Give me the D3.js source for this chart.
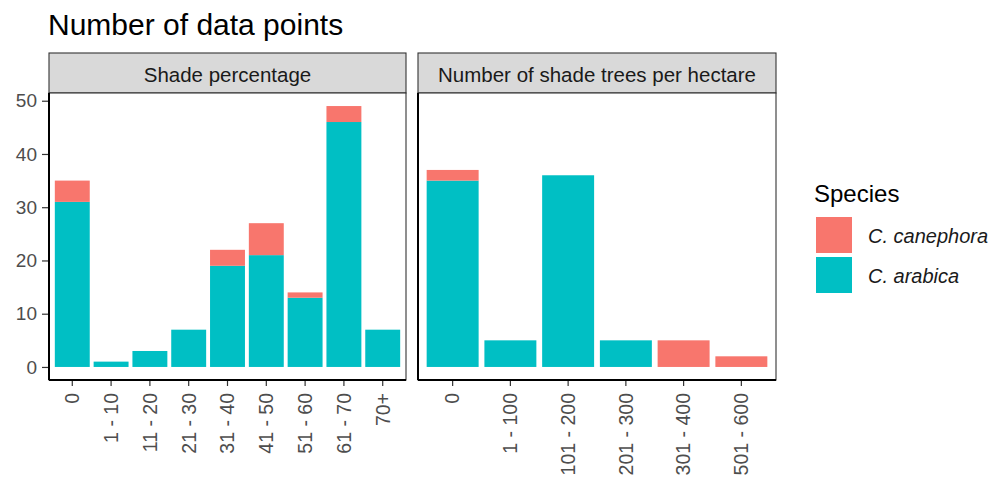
<!DOCTYPE html>
<html>
<head>
<meta charset="utf-8">
<script src="https://cdn.jsdelivr.net/npm/d3@7"></script>
<style>
  body { margin: 0; background: #fff; }
  svg { display: block; font-family: "Liberation Sans", Arial, sans-serif; }
</style>
</head>
<body>
<div id="svgDiv"></div>
<script>
// data
var shadeCats = ["0", "1 - 10", "11 - 20", "21 - 30", "31 - 40", "41 - 50", "51 - 60", "61 - 70", "70+"];
var shadeArabica = [31, 1, 3, 7, 19, 21, 13, 46, 7];
var shadeCanephora = [4, 0, 0, 0, 3, 6, 1, 3, 0];

var treeCats = ["0", "1 - 100", "101 - 200", "201 - 300", "301 - 400", "501 - 600"];
var treeArabica = [35, 5, 36, 5, 0, 0];
var treeCanephora = [2, 0, 0, 0, 5, 2];

var yTicks = [0, 10, 20, 30, 40, 50];
var species = ["C. canephora", "C. arabica"];
var colors = { "C. canephora": "#F8766D", "C. arabica": "#00BFC4" };

var width = 1003, height = 480;
var panelTop = 93, panelBottom = 380, stripTop = 53;

var svg = d3.select("#svgDiv").append("svg")
    .attr("width", width)
    .attr("height", height);

// title
svg.append("text")
    .attr("x", 48).attr("y", 35)
    .style("font-size", "30px")
    .style("fill", "#000")
    .text("Number of data points");

// shared y scale (ggplot expands 5% each side)
var yMax = 49;
var yScale = d3.scaleLinear()
    .domain([-0.05 * yMax, yMax * 1.05])
    .range([panelBottom, panelTop]);

function drawPanel(x0, x1, title, cats, arabica, canephora, showY)
{
    var g = svg.append("g");
    var xScale = d3.scaleBand()
        .domain(cats)
        .range([x0, x1])
        .paddingInner(0.1)
        .paddingOuter(0.15);

    // strip
    g.append("rect")
        .attr("x", x0).attr("y", stripTop)
        .attr("width", x1 - x0).attr("height", panelTop - stripTop)
        .style("fill", "#D9D9D9")
        .style("stroke", "#333333")
        .style("stroke-width", 1.1);
    g.append("text")
        .attr("x", (x0 + x1) / 2).attr("y", (stripTop + panelTop) / 2 + 1)
        .attr("text-anchor", "middle")
        .attr("dominant-baseline", "central")
        .style("font-size", "20.5px")
        .style("fill", "#1A1A1A")
        .text(title);

    // panel background
    g.append("rect")
        .attr("x", x0).attr("y", panelTop)
        .attr("width", x1 - x0).attr("height", panelBottom - panelTop)
        .style("fill", "#fff")
        .style("stroke", "#333333")
        .style("stroke-width", 1.1);

    // stacked bars: arabica at bottom, canephora on top
    var rows = cats.map(function(c, i) {
        return { cat: c, arabica: arabica[i], canephora: canephora[i] };
    });
    g.selectAll(".bar-ara")
        .data(rows.filter(d => d.arabica > 0)).enter().append("rect")
        .attr("x", d => xScale(d.cat))
        .attr("width", xScale.bandwidth())
        .attr("y", d => yScale(d.arabica))
        .attr("height", d => yScale(0) - yScale(d.arabica))
        .style("fill", colors["C. arabica"]);
    g.selectAll(".bar-can")
        .data(rows.filter(d => d.canephora > 0)).enter().append("rect")
        .attr("x", d => xScale(d.cat))
        .attr("width", xScale.bandwidth())
        .attr("y", d => yScale(d.arabica + d.canephora))
        .attr("height", d => yScale(d.arabica) - yScale(d.arabica + d.canephora))
        .style("fill", colors["C. canephora"]);

    // axis lines
    g.append("line")
        .attr("x1", x0).attr("x2", x1)
        .attr("y1", panelBottom).attr("y2", panelBottom)
        .style("stroke", "#000").style("stroke-width", 2);
    g.append("line")
        .attr("x1", x0).attr("x2", x0)
        .attr("y1", panelTop).attr("y2", panelBottom)
        .style("stroke", "#000").style("stroke-width", 2);

    // x axis
    var xAxis = d3.axisBottom(xScale).tickSize(5).tickPadding(4);
    var gx = g.append("g")
        .attr("transform", `translate(0,${panelBottom + 1})`)
        .call(xAxis);
    gx.select(".domain").remove();
    gx.selectAll(".tick line").style("stroke", "#333333").style("stroke-width", 1.2);
    gx.selectAll(".tick text")
        .attr("transform", "rotate(-90)")
        .attr("x", -12).attr("y", 0).attr("dy", "0.35em")
        .attr("text-anchor", "end")
        .style("font-size", "19.5px")
        .style("font-family", "Liberation Sans, Arial, sans-serif")
        .style("fill", "#4D4D4D");

    if (showY) {
        var yAxis = d3.axisLeft(yScale).tickValues(yTicks).tickSize(6).tickPadding(5);
        var gy = g.append("g")
            .attr("transform", `translate(${x0 - 1},0)`)
            .call(yAxis);
        gy.select(".domain").remove();
        gy.selectAll(".tick line").style("stroke", "#333333").style("stroke-width", 1.2);
        gy.selectAll(".tick text")
            .style("font-size", "19px")
            .style("font-family", "Liberation Sans, Arial, sans-serif")
            .style("fill", "#4D4D4D");
    }
}

drawPanel(49, 406, "Shade percentage", shadeCats, shadeArabica, shadeCanephora, true);
drawPanel(418, 776, "Number of shade trees per hectare", treeCats, treeArabica, treeCanephora, false);

// legend
var legend = svg.append("g");
legend.append("text")
    .attr("x", 814).attr("y", 202)
    .style("font-size", "24px")
    .style("fill", "#000")
    .text("Species");
var keys = legend.selectAll(".key")
    .data(species).enter().append("g")
    .attr("transform", (d, i) => `translate(816,${217 + i * 40})`);
keys.append("rect")
    .attr("width", 36).attr("height", 36)
    .style("fill", d => colors[d]);
keys.append("text")
    .attr("x", 52).attr("y", 26)
    .style("font-size", "20px")
    .style("font-style", "italic")
    .style("fill", "#1A1A1A")
    .text(d => d);
</script>
</body>
</html>
